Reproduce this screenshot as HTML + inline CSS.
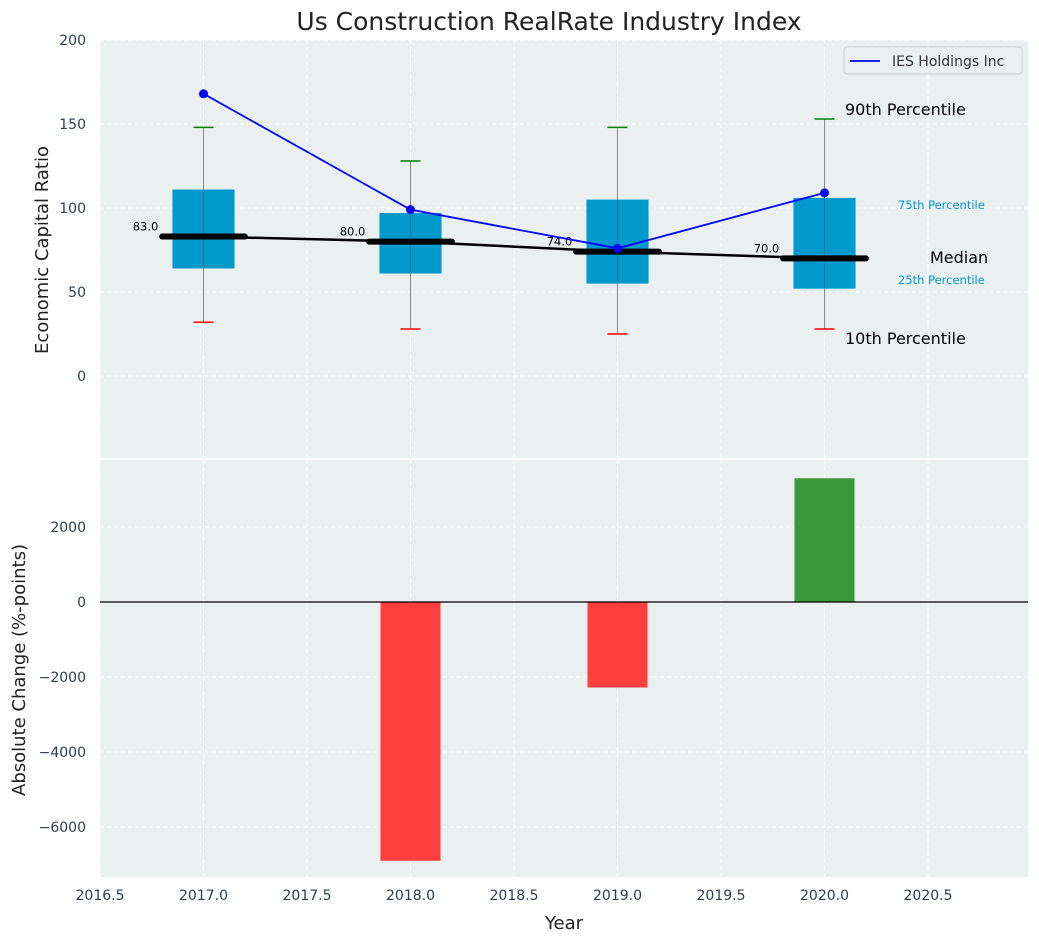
<!DOCTYPE html>
<html><head><meta charset="utf-8"><style>
html,body{margin:0;padding:0;background:#fff;}
svg{display:block;font-family:"DejaVu Sans","Liberation Sans",sans-serif;}
</style></head><body>
<svg id="chart" width="1039" height="942"></svg>
<script>
const years=[2017,2018,2019,2020];
const q1=[64,61,55,52];
const q3=[111,97,105,106];
const medians=[83,80,74,70];
const p10=[32,28,25,28];
const p90=[148,128,148,153];
const iesValues=[168,99,76,109];
const changeYears=[2018,2019,2020];
const changes=[-6900,-2280,3300];
const xTicks=[2016.5,2017,2017.5,2018,2018.5,2019,2019.5,2020,2020.5];
const yTopTicks=[0,50,100,150,200];
const yBotTicks=[-6000,-4000,-2000,0,2000];

const NS="http://www.w3.org/2000/svg";
const svg=document.getElementById('chart');
function el(t,a,p){const e=document.createElementNS(NS,t);for(const k in a)e.setAttribute(k,a[k]);(p||svg).appendChild(e);return e;}
const X=v=>100+(v-2016.5)*207;
const YT=v=>376-v*1.68;
const YB=v=>602-v*0.0375;
const L=100,R=1028;

// backgrounds
let e=el('rect',{x:L,y:40,width:R-L,height:418,fill:'#eaeff0'});

e=el('rect',{x:L,y:460,width:R-L,height:417,fill:'#eaeff0'});


// grid
xTicks.forEach(t=>{
  el('line',{x1:X(t),x2:X(t),y1:40,y2:458,stroke:'#fff','stroke-dasharray':'4,3','stroke-width':1});
  el('line',{x1:X(t),x2:X(t),y1:460,y2:877,stroke:'#fff','stroke-dasharray':'4,3','stroke-width':1});
  e=el('text',{x:X(t),y:900,'text-anchor':'middle','font-size':14,fill:'#2d3e50'});e.textContent=t.toFixed(1);
  
});
yTopTicks.forEach(t=>{
  el('line',{x1:L,x2:R,y1:YT(t),y2:YT(t),stroke:'#fff','stroke-dasharray':'4,3'});
  e=el('text',{x:86,y:YT(t)+5,'text-anchor':'end','font-size':14,fill:'#2d3e50'});e.textContent=t;
  
});
yBotTicks.forEach(t=>{
  el('line',{x1:L,x2:R,y1:YB(t),y2:YB(t),stroke:'#fff','stroke-dasharray':'4,3'});
  e=el('text',{x:86,y:YB(t)+5,'text-anchor':'end','font-size':14,fill:'#2d3e50'});e.textContent=(t<0?'\u2212'+(-t):t);
  
});

// boxes
years.forEach((y,i)=>{
  const x=X(y);
  e=el('line',{x1:x,x2:x,y1:YT(p90[i]),y2:YT(p10[i]),stroke:'#888','stroke-width':1});
  
  e=el('rect',{x:X(y-0.15),y:YT(q3[i]),width:X(y+0.15)-X(y-0.15),height:YT(q1[i])-YT(q3[i]),fill:'#0099cc'});
  
  el('line',{x1:x,x2:x,y1:YT(q3[i]),y2:YT(q1[i]),stroke:'#557','stroke-width':1,opacity:0.6});
  e=el('line',{x1:x-10,x2:x+10,y1:YT(p90[i]),y2:YT(p90[i]),stroke:'green','stroke-width':1.5});
  
  e=el('line',{x1:x-10,x2:x+10,y1:YT(p10[i]),y2:YT(p10[i]),stroke:'red','stroke-width':1.5});
  
});
// median trend line
e=el('polyline',{points:years.map((y,i)=>X(y)+','+YT(medians[i])).join(' '),fill:'none',stroke:'#000','stroke-width':2.5});

years.forEach((y,i)=>{
  e=el('line',{x1:X(y-0.2),x2:X(y+0.2),y1:YT(medians[i]),y2:YT(medians[i]),stroke:'#000','stroke-width':6,'stroke-linecap':'round'});
  
  e=el('text',{x:X(y-0.28),y:YT(medians[i])-6,'text-anchor':'middle','font-size':11.5,fill:'#000'});e.textContent=medians[i].toFixed(1);
  
});
// IES line
e=el('polyline',{points:years.map((y,i)=>X(y)+','+YT(iesValues[i])).join(' '),fill:'none',stroke:'blue','stroke-width':1.8});

years.forEach((y,i)=>{
  e=el('circle',{cx:X(y),cy:YT(iesValues[i]),r:4.5,fill:'blue'});
  
});
// annotations
[['90th Percentile',845,115,16,'#000'],['75th Percentile',898,209,11.5,'#0099cc'],['Median',930,263,16,'#000'],['25th Percentile',898,284,11.5,'#0099cc'],['10th Percentile',845,344,16,'#000']].forEach(a=>{
  e=el('text',{x:a[1],y:a[2],'font-size':a[3],fill:a[4]});e.textContent=a[0];
  
});
// legend
e=el('rect',{x:844,y:47,width:178,height:27,rx:3,fill:'#eaeff0',stroke:'#ccc'});

el('line',{x1:850,x2:880,y1:61,y2:61,stroke:'blue','stroke-width':1.8});
e=el('text',{x:892,y:66,'font-size':14,fill:'#333'});e.textContent='IES Holdings Inc';


// bars
changeYears.forEach((y,i)=>{
  const v=changes[i];
  e=el('rect',{x:X(y-0.145),y:Math.min(YB(0),YB(v)),width:X(y+0.145)-X(y-0.145),height:Math.abs(YB(v)-YB(0)),fill:v<0?'#ff3e3e':'#3a9a3a'});
  
});
el('line',{x1:L,x2:R,y1:YB(0),y2:YB(0),stroke:'#000','stroke-width':1.2});

// titles
e=el('text',{x:549,y:30,'text-anchor':'middle','font-size':25,fill:'#222'});e.textContent='Us Construction RealRate Industry Index';

e=el('text',{x:564,y:929,'text-anchor':'middle','font-size':18,fill:'#222'});e.textContent='Year';

e=el('text',{x:48,y:250,'text-anchor':'middle','font-size':18,fill:'#222',transform:'rotate(-90 48 250)'});e.textContent='Economic Capital Ratio';

e=el('text',{x:25,y:670,'text-anchor':'middle','font-size':18,fill:'#222',transform:'rotate(-90 25 670)'});e.textContent='Absolute Change (%-points)';

</script>
</body></html>
